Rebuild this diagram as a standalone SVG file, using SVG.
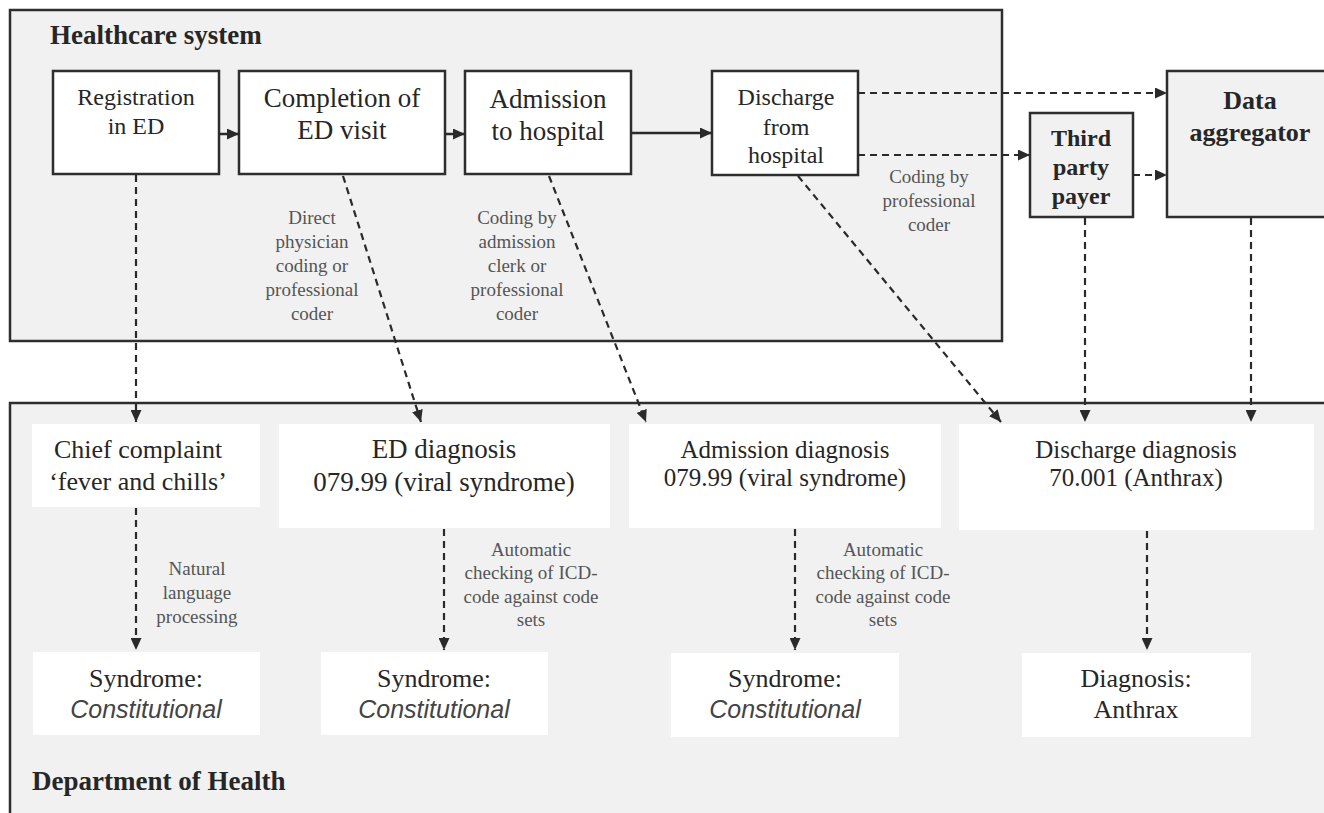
<svg xmlns="http://www.w3.org/2000/svg" width="1324" height="813" viewBox="0 0 1324 813">
<defs>
<marker id="ah" viewBox="0 0 12 11" refX="12" refY="5.5" markerWidth="12" markerHeight="11" markerUnits="userSpaceOnUse" orient="auto">
<path d="M0,0 L12,5.5 L0,11 z" fill="#2a2a2a"/>
</marker>
<style>
.frame{fill:#f1f1f1;stroke:#2e2e2e;stroke-width:2.5}
.box{fill:#fff;stroke:#2e2e2e;stroke-width:2.5}
.gbox{fill:#f1f1f1;stroke:#2e2e2e;stroke-width:2.5}
.wbox{fill:#fff;stroke:none}
.t{font-family:"Liberation Serif",serif;fill:#262626;text-anchor:middle}
.title{font-family:"Liberation Serif",serif;fill:#262626;font-weight:bold;font-size:27px;text-anchor:start}
.b{font-weight:bold}
.lab{font-family:"Liberation Serif",serif;fill:#555;font-size:19px;text-anchor:middle}
.it{font-family:"Liberation Sans",sans-serif;font-style:italic;fill:#444;text-anchor:middle}
.solid{stroke:#2a2a2a;stroke-width:2.5;fill:none;marker-end:url(#ah)}
.dash{stroke:#2a2a2a;stroke-width:2.2;fill:none;stroke-dasharray:7 5;marker-end:url(#ah)}
</style>
</defs>
<rect width="1324" height="813" fill="#fff"/>

<g id="healthcare-system">
<rect class="frame" x="10" y="10" width="992" height="331"/>
<text class="title" x="50" y="44">Healthcare system</text>
</g>
<g id="department-of-health">
<rect class="frame" x="10" y="403" width="1330" height="420"/>
<text class="title" x="32" y="790">Department of Health</text>
</g>

<g id="registration">
<rect class="box" x="53" y="71" width="166" height="103"/>
<text class="t" x="136" y="105" font-size="24">Registration</text>
<text class="t" x="136" y="134" font-size="24">in ED</text>
</g>
<g id="completion">
<rect class="box" x="239" y="71" width="206" height="103"/>
<text class="t" x="342" y="107" font-size="27">Completion of</text>
<text class="t" x="342" y="139" font-size="27">ED visit</text>
</g>
<g id="admission">
<rect class="box" x="465" y="71" width="166" height="103"/>
<text class="t" x="548" y="108" font-size="27">Admission</text>
<text class="t" x="548" y="140" font-size="27">to hospital</text>
</g>
<g id="discharge">
<rect class="box" x="712" y="71" width="146" height="104"/>
<text class="t" x="786" y="105" font-size="24">Discharge</text>
<text class="t" x="786" y="135" font-size="24">from</text>
<text class="t" x="786" y="163" font-size="24">hospital</text>
</g>
<g id="third-party">
<rect class="gbox" x="1030" y="113" width="103" height="104"/>
<text class="t b" x="1081" y="146" font-size="24">Third</text>
<text class="t b" x="1081" y="175" font-size="24">party</text>
<text class="t b" x="1081" y="204" font-size="24">payer</text>
</g>
<g id="data-aggregator">
<rect class="gbox" x="1167" y="71" width="160" height="146"/>
<text class="t b" x="1250" y="109" font-size="26">Data</text>
<text class="t b" x="1250" y="141" font-size="26">aggregator</text>
</g>

<g id="chief-complaint">
<rect class="wbox" x="32" y="424" width="228" height="83"/>
<text class="t" x="138" y="458" font-size="26">Chief complaint</text>
<text class="t" x="138" y="490" font-size="26">‘fever and chills’</text>
</g>
<g id="ed-diagnosis">
<rect class="wbox" x="279" y="424" width="331" height="104"/>
<text class="t" x="444" y="458" font-size="27">ED diagnosis</text>
<text class="t" x="444" y="491" font-size="27">079.99 (viral syndrome)</text>
</g>
<g id="admission-diagnosis">
<rect class="wbox" x="629" y="424" width="312" height="104"/>
<text class="t" x="785" y="458" font-size="25">Admission diagnosis</text>
<text class="t" x="785" y="486" font-size="25">079.99 (viral syndrome)</text>
</g>
<g id="discharge-diagnosis">
<rect class="wbox" x="959" y="424" width="355" height="106"/>
<text class="t" x="1136" y="458" font-size="25">Discharge diagnosis</text>
<text class="t" x="1136" y="486" font-size="25">70.001 (Anthrax)</text>
</g>

<g id="syndrome-1">
<rect class="wbox" x="33" y="652" width="227" height="83"/>
<text class="t" x="146" y="687" font-size="26">Syndrome:</text>
<text class="it" x="146" y="718" font-size="25">Constitutional</text>
</g>
<g id="syndrome-2">
<rect class="wbox" x="321" y="652" width="227" height="83"/>
<text class="t" x="434" y="687" font-size="26">Syndrome:</text>
<text class="it" x="434" y="718" font-size="25">Constitutional</text>
</g>
<g id="syndrome-3">
<rect class="wbox" x="671" y="653" width="228" height="84"/>
<text class="t" x="785" y="687" font-size="26">Syndrome:</text>
<text class="it" x="785" y="718" font-size="25">Constitutional</text>
</g>
<g id="diagnosis-anthrax">
<rect class="wbox" x="1022" y="653" width="229" height="84"/>
<text class="t" x="1136" y="687" font-size="26">Diagnosis:</text>
<text class="t" x="1136" y="718" font-size="26">Anthrax</text>
</g>

<g id="connectors">
<line class="solid" x1="219" y1="134" x2="239" y2="134"/>
<line class="solid" x1="445" y1="134" x2="465" y2="134"/>
<line class="solid" x1="631" y1="133" x2="712" y2="133"/>
<line class="dash" x1="858" y1="93" x2="1167" y2="93"/>
<line class="dash" x1="858" y1="155" x2="1030" y2="155"/>
<line class="dash" x1="1133" y1="175" x2="1167" y2="175"/>
<line class="dash" x1="136" y1="175" x2="136" y2="422"/>
<line class="dash" x1="343" y1="176" x2="421" y2="422"/>
<line class="dash" x1="549" y1="176" x2="646" y2="422"/>
<line class="dash" x1="798" y1="176" x2="1001" y2="422"/>
<line class="dash" x1="1085" y1="218" x2="1085" y2="422"/>
<line class="dash" x1="1251" y1="218" x2="1251" y2="422"/>
<line class="dash" x1="136" y1="508" x2="136" y2="650"/>
<line class="dash" x1="444" y1="529" x2="444" y2="650"/>
<line class="dash" x1="795" y1="529" x2="795" y2="650"/>
<line class="dash" x1="1147" y1="531" x2="1147" y2="650"/>
</g>

<g id="labels">
<text class="lab"><tspan x="312" y="224">Direct</tspan><tspan x="312" y="248">physician</tspan><tspan x="312" y="272">coding or</tspan><tspan x="312" y="296">professional</tspan><tspan x="312" y="320">coder</tspan></text>
<text class="lab"><tspan x="517" y="224">Coding by</tspan><tspan x="517" y="248">admission</tspan><tspan x="517" y="272">clerk or</tspan><tspan x="517" y="296">professional</tspan><tspan x="517" y="320">coder</tspan></text>
<text class="lab"><tspan x="929" y="183">Coding by</tspan><tspan x="929" y="207">professional</tspan><tspan x="929" y="231">coder</tspan></text>
<text class="lab"><tspan x="197" y="575">Natural</tspan><tspan x="197" y="599">language</tspan><tspan x="197" y="623">processing</tspan></text>
<text class="lab"><tspan x="531" y="556">Automatic</tspan><tspan x="531" y="579">checking of ICD-</tspan><tspan x="531" y="603">code against code</tspan><tspan x="531" y="626">sets</tspan></text>
<text class="lab"><tspan x="883" y="556">Automatic</tspan><tspan x="883" y="579">checking of ICD-</tspan><tspan x="883" y="603">code against code</tspan><tspan x="883" y="626">sets</tspan></text>
</g>
</svg>
